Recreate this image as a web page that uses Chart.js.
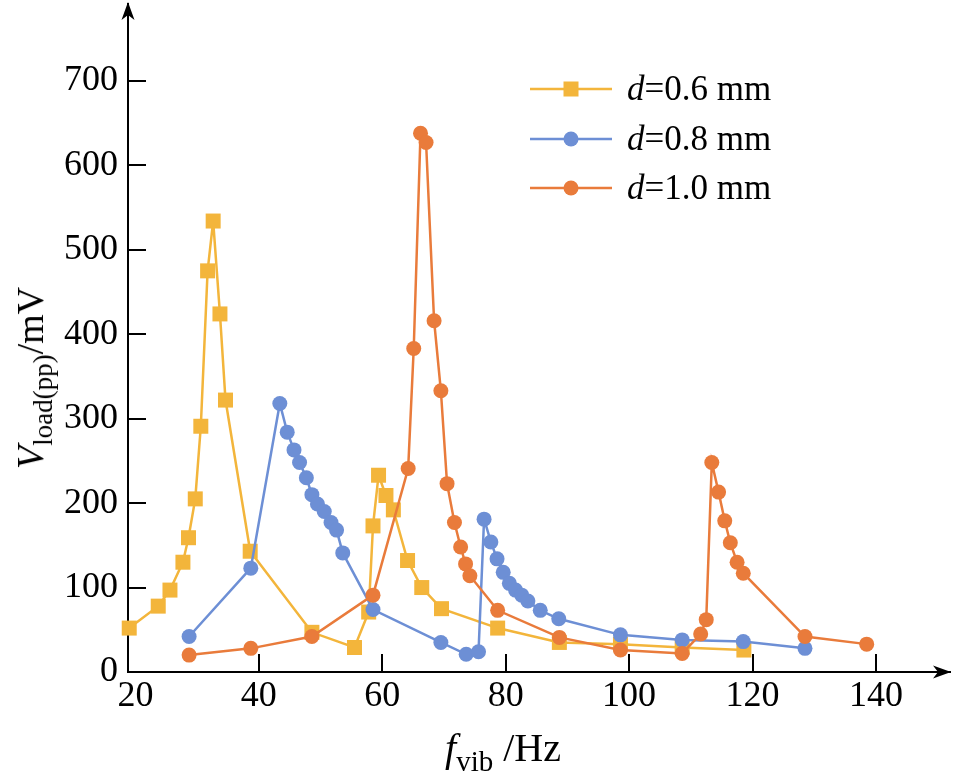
<!DOCTYPE html>
<html>
<head>
<meta charset="utf-8">
<script src="https://cdn.jsdelivr.net/npm/chart.js@4.4.1/dist/chart.umd.min.js"></script>
<style>
html,body{margin:0;padding:0;background:#fff;}
#wrap{position:relative;width:953px;height:782px;overflow:hidden;}
#c{position:absolute;left:0;top:0;}
.t{position:absolute;font-family:'Liberation Serif','Times New Roman',serif;color:#000;white-space:nowrap;line-height:1;}
.sub{position:relative;}
</style>
</head>
<body>
<div id="wrap">
<canvas id="c" width="953" height="782"></canvas>
<div class="t" id="ytitle" style="left:30px;top:378px;font-size:38px;transform:translate(-50%,-50%) rotate(-90deg);"><i>V</i><span class="sub" style="font-size:27px;top:9px;">load(pp)</span>/mV</div>
<div class="t" id="xtitle" style="left:445px;top:728px;font-size:40px;"><i>f</i><span class="sub" style="font-size:29px;top:10px;">vib</span> /Hz</div>
<div class="t" style="left:627px;top:71px;font-size:35px;"><i>d</i>=0.6 mm</div>
<div class="t" style="left:627px;top:121px;font-size:35px;"><i>d</i>=0.8 mm</div>
<div class="t" style="left:627px;top:170px;font-size:35px;"><i>d</i>=1.0 mm</div>
</div>
<script>
// ---- data ----
const xTickValues = [20, 40, 60, 80, 100, 120, 140];
const yTickValues = [0, 100, 200, 300, 400, 500, 600, 700];

const seriesNames = ['d=0.6 mm', 'd=0.8 mm', 'd=1.0 mm'];

const freq06 = [19.0, 23.7, 25.6, 27.7, 28.6, 29.7, 30.6, 31.7, 32.6, 33.7, 34.6, 38.6, 48.6, 55.5, 57.8, 58.5, 59.4, 60.6, 61.8, 64.1, 66.4, 69.6, 78.7, 88.7, 98.6, 108.6, 118.6];
const volt06 = [52, 78, 97, 130, 159, 205, 291, 475, 534, 424, 322, 143, 47, 29, 71, 173, 233, 209, 192, 132, 100, 75, 52, 35, 33, 29, 26];

const freq08 = [28.7, 38.7, 43.4, 44.6, 45.7, 46.6, 47.7, 48.6, 49.5, 50.6, 51.7, 52.6, 53.6, 58.5, 69.5, 73.6, 75.6, 76.5, 77.6, 78.6, 79.6, 80.6, 81.6, 82.6, 83.6, 85.6, 88.6, 98.6, 108.6, 118.5, 128.5];
const volt08 = [42, 123, 318, 284, 263, 248, 230, 210, 199, 190, 177, 168, 141, 74, 35, 21, 24, 181, 154, 134, 118, 105, 97, 91, 84, 73, 63, 44, 38, 36, 28];

const freq10 = [28.7, 38.7, 48.6, 58.5, 64.2, 65.1, 66.2, 67.1, 68.4, 69.5, 70.5, 71.7, 72.7, 73.5, 74.2, 78.7, 88.7, 98.6, 108.6, 111.6, 112.5, 113.4, 114.5, 115.5, 116.4, 117.5, 118.5, 128.5, 138.5];
const volt10 = [20, 28, 42, 91, 241, 383, 638, 627, 416, 333, 223, 177, 148, 128, 114, 73, 41, 26, 22, 45, 62, 248, 213, 179, 153, 130, 117, 42, 33];

const colors = ['#F3B53B', '#6D8FD5', '#E97B3B'];

// ---- chart ----
const FONT = "'Liberation Serif','Times New Roman',serif";
const pts = (xs, ys) => xs.map((v, i) => ({x: v, y: ys[i]}));

const axisDecor = {
  id: 'axisDecor',
  afterDraw(chart) {
    const {ctx, chartArea: a, scales: {x, y}} = chart;
    ctx.save();
    ctx.strokeStyle = '#000';
    ctx.lineWidth = 2;
    ctx.beginPath();
    xTickValues.forEach((v, i) => {
      if (i === 0) return;
      const px = Math.round(x.getPixelForValue(v));
      ctx.moveTo(px, a.bottom);
      ctx.lineTo(px, a.bottom - 18);
    });
    yTickValues.forEach((v, i) => {
      if (i === 0) return;
      const py = Math.round(y.getPixelForValue(v));
      ctx.moveTo(a.left, py);
      ctx.lineTo(a.left + 18, py);
    });
    ctx.stroke();
    // arrow heads
    ctx.fillStyle = '#000';
    const xb = a.bottom, tipX = a.right + 1;
    ctx.beginPath();
    ctx.moveTo(tipX, xb);
    ctx.lineTo(tipX - 18, xb - 6.5);
    ctx.lineTo(tipX - 13, xb);
    ctx.lineTo(tipX - 18, xb + 6.5);
    ctx.closePath();
    ctx.fill();
    const yl = a.left, tipY = a.top - 2;
    ctx.beginPath();
    ctx.moveTo(yl, tipY);
    ctx.lineTo(yl - 6.5, tipY + 18);
    ctx.lineTo(yl, tipY + 13);
    ctx.lineTo(yl + 6.5, tipY + 18);
    ctx.closePath();
    ctx.fill();
    // legend samples
    const rows = [89, 139, 188];
    rows.forEach((ry, i) => {
      ctx.strokeStyle = colors[i];
      ctx.lineWidth = 2.5;
      ctx.beginPath();
      ctx.moveTo(530, ry);
      ctx.lineTo(612, ry);
      ctx.stroke();
      ctx.fillStyle = colors[i];
      if (i === 0) {
        ctx.fillRect(571 - 7.5, ry - 7.5, 15, 15);
      } else {
        ctx.beginPath();
        ctx.arc(571, ry, 7.5, 0, Math.PI * 2);
        ctx.fill();
      }
    });
    ctx.restore();
  }
};

const mk = (i, xs, ys, style, radius, order) => ({
  label: seriesNames[i],
  data: pts(xs, ys),
  borderColor: colors[i],
  backgroundColor: colors[i],
  pointBackgroundColor: colors[i],
  pointBorderColor: colors[i],
  pointBorderWidth: 0,
  pointStyle: style,
  pointRadius: radius,
  borderWidth: 2.5,
  tension: 0,
  clip: false,
  order: order
});

new Chart(document.getElementById('c'), {
  type: 'line',
  data: {
    datasets: [
      mk(0, freq06, volt06, 'rect', 10.6, 2),
      mk(1, freq08, volt08, 'circle', 7.5, 1),
      mk(2, freq10, volt10, 'circle', 7.5, 0)
    ]
  },
  options: {
    responsive: false,
    animation: false,
    devicePixelRatio: 1,
    events: [],
    layout: {autoPadding: false, padding: {left: 0, right: 3, top: 4, bottom: 0}},
    plugins: {legend: {display: false}, tooltip: {enabled: false}},
    scales: {
      x: {
        type: 'linear',
        min: 18.8,
        max: 152,
        grid: {display: false, drawTicks: false},
        border: {display: true, color: '#000', width: 2},
        ticks: {font: {family: FONT, size: 36}, color: '#000', padding: 3, maxRotation: 0, autoSkip: false},
        afterBuildTicks: s => { s.ticks = xTickValues.map(v => ({value: v})); },
        afterFit: s => { s.height = 110; s.paddingLeft = 0; s.paddingRight = 0; }
      },
      y: {
        type: 'linear',
        min: 0,
        max: 791,
        grid: {display: false, drawTicks: false},
        border: {display: true, color: '#000', width: 2},
        ticks: {font: {family: FONT, size: 36}, color: '#000', padding: 10, autoSkip: false},
        afterBuildTicks: s => { s.ticks = yTickValues.map(v => ({value: v})); },
        afterFit: s => { s.width = 128; s.paddingTop = 0; s.paddingBottom = 0; }
      }
    }
  },
  plugins: [axisDecor]
});
</script>
</body>
</html>
